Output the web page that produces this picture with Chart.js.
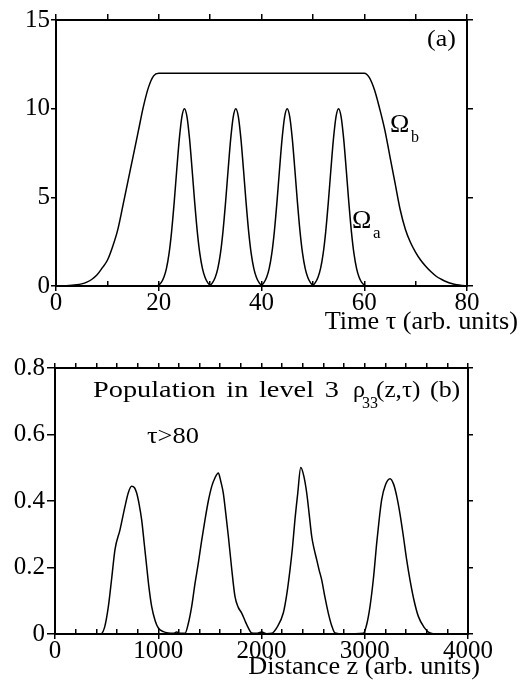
<!DOCTYPE html>
<html><head><meta charset="utf-8">
<script src="https://cdn.jsdelivr.net/npm/chart.js@4.4.1/dist/chart.umd.min.js"></script>
<style>
html,body{margin:0;padding:0;background:#fff;width:527px;height:692px;overflow:hidden}
canvas{position:absolute;left:0}
#ca{top:0}
#cb{top:340px}
</style></head><body>
<canvas id="ca" width="527" height="340"></canvas>
<canvas id="cb" width="527" height="352"></canvas>
<script>
// ---------- Panel (a): pulse envelopes ----------
const tauB = [0,2,4,5,6,7,8,9,10,11,12,13,14,15,16,17,18,19,20,40,60,61,62,63,64,65,66,67,68,69,70,71,72,73,74,75,76,77,78,79,80];
const omegaB = [0.003,0.016,0.065,0.12,0.22,0.38,0.63,1.02,1.45,2.2,3.15,4.5,5.9,7.3,8.7,10.1,11.2,11.85,12,12,12,11.75,11.05,10.0,8.8,7.3,5.8,4.3,3.2,2.45,1.9,1.45,1.1,0.8,0.55,0.38,0.24,0.14,0.07,0.03,0.01];

const tauA = [0,19.5,20,20.5,21,21.5,22,22.5,23,23.5,24,24.5,25,25.5,26,26.5,27,27.5,28,28.5,29,29.5,30,30.5,31,31.5,32,32.5,33,33.5,34,34.5,35,35.5,36,36.5,37,37.5,38,38.5,39,39.5,40,40.5,41,41.5,42,42.5,43,43.5,44,44.5,45,45.5,46,46.5,47,47.5,48,48.5,49,49.5,50,50.5,51,51.5,52,52.5,53,53.5,54,54.5,55,55.5,56,56.5,57,57.5,58,58.5,59,59.5,60,60.5,80];
const omegaA = [0,0,
  0.05,0.2,0.49,0.99,1.82,3.07,4.70,6.54,8.28,9.54,10,9.54,8.28,6.54,4.70,3.07,1.82,0.99,0.49,0.2,
  0.05,0.2,0.49,0.99,1.82,3.07,4.70,6.54,8.28,9.54,10,9.54,8.28,6.54,4.70,3.07,1.82,0.99,0.49,0.2,
  0.05,0.2,0.49,0.99,1.82,3.07,4.70,6.54,8.28,9.54,10,9.54,8.28,6.54,4.70,3.07,1.82,0.99,0.49,0.2,
  0.05,0.2,0.49,0.99,1.82,3.07,4.70,6.54,8.28,9.54,10,9.54,8.28,6.54,4.70,3.07,1.82,0.99,0.49,0.2,
  0.05,0,0];

const timeTickLabels = [0,20,40,60,80];
const omegaTickLabels = [0,5,10,15];

// ---------- Panel (b): population in level 3 ----------
const distZ = [0,300,440,480,517,550,581,630,678,710,742,770,791,815,839,865,888,910,936,970,1001,1050,1098,1150,1178,1210,1259,1290,1324,1355,1388,1420,1453,1485,1518,1550,1582,1605,1630,1655,1679,1710,1743,1775,1808,1840,1870,1905,1950,2002,2050,2099,2150,2211,2245,2276,2300,2324,2350,2380,2410,2438,2462,2486,2510,2535,2560,2583,2615,2647,2680,2712,2800,2986,3020,3051,3085,3116,3140,3164,3200,3245,3280,3310,3342,3374,3405,3438,3478,3519,3575,3632,3700,4000];
const rho33 = [0,0,0,0.02,0.083,0.17,0.254,0.314,0.384,0.425,0.444,0.44,0.424,0.39,0.344,0.27,0.203,0.14,0.083,0.04,0.018,0.007,0.003,0.002,0.006,0.002,0.002,0.03,0.083,0.15,0.213,0.28,0.344,0.40,0.444,0.47,0.484,0.46,0.424,0.36,0.294,0.2,0.113,0.08,0.063,0.04,0.02,0.003,0.002,0.006,0.001,0.002,0.02,0.063,0.12,0.193,0.26,0.344,0.42,0.501,0.475,0.424,0.36,0.294,0.255,0.223,0.19,0.163,0.11,0.063,0.025,0.003,0,0.002,0.03,0.083,0.17,0.274,0.345,0.404,0.448,0.467,0.45,0.414,0.36,0.294,0.225,0.163,0.1,0.053,0.02,0.003,0,0];

const distTickLabels = [0,1000,2000,3000,4000];
const rhoTickLabels = [0,0.2,0.4,0.6,0.8];

// ---------- helpers ----------
const SERIF = "'Liberation Serif', 'Times New Roman', Times, serif";
const pts = (xs, ys) => xs.map((x, i) => ({x, y: ys[i]}));

function lineDs(xs, ys) {
  return {data: pts(xs, ys), borderColor:'#000', borderWidth:1.5, pointRadius:0,
          fill:false, cubicInterpolationMode:'monotone'};
}

function axis(opts) {
  return {
    type:'linear', position:opts.position, min:opts.min, max:opts.max,
    weight: opts.weight || 0,
    afterFit: s => { if (opts.w !== undefined) s.width = opts.w; if (opts.h !== undefined) s.height = opts.h; },
    ticks:{
      display: !!opts.labels, stepSize: opts.step, autoSkip:false, maxRotation:0, color:'#000',
      padding: opts.pad || 0,
      font:{family:SERIF, size:25, lineHeight:1},
      callback: v => (opts.labels && opts.labels.some(l => Math.abs(l - v) < 1e-9)) ? String(v) : ''
    },
    grid:{drawOnChartArea:false, drawTicks:true, tickLength:opts.tl || 6, color:'#000', lineWidth:1.5},
    border:{display:true, color:'#000', width:2}
  };
}

function textPlugin(items) {
  return {
    id:'texts',
    afterDraw(chart) {
      const ctx = chart.ctx;
      items.forEach(t => {
        ctx.save();
        ctx.font = (t.size) + 'px ' + SERIF;
        ctx.fillStyle = '#000';
        ctx.textBaseline = 'alphabetic';
        if (t.ws) ctx.wordSpacing = t.ws + 'px';
        const sx = t.sx || 1;
        const w = ctx.measureText(t.text).width * sx;
        const x0 = t.align === 'right' ? t.x - w : t.x;
        ctx.translate(x0, t.y);
        ctx.scale(sx, 1);
        ctx.textAlign = 'left';
        ctx.fillText(t.text, 0, 0);
        ctx.restore();
      });
    }
  };
}

// ---------- Chart (a) ----------
new Chart(document.getElementById('ca'), {
  type:'line',
  data:{datasets:[lineDs(tauB, omegaB), lineDs(tauA, omegaA)]},
  options:{
    responsive:false, animation:false, devicePixelRatio:1,
    layout:{padding:0},
    plugins:{legend:{display:false}, tooltip:{enabled:false}},
    scales:{
      xm: axis({position:'bottom', min:0, max:80, step:10, h:0, tl:-5, weight:0}),
      x: axis({position:'bottom', min:0, max:80, step:20, labels:timeTickLabels, h:54, tl:5, weight:1}),
      x2: axis({position:'top', min:0, max:80, step:10, h:20, tl:6}),
      y: axis({position:'left', min:0, max:15, step:5, labels:omegaTickLabels, w:56, tl:5, pad:1}),
      y2: axis({position:'right', min:0, max:15, step:5, w:60, tl:6})
    }
  },
  plugins:[textPlugin([
    {text:'(a)', x:427, y:46, size:24, sx:1.08},
    {text:'Ω', x:390, y:132, size:26},
    {text:'b', x:411, y:142, size:16},
    {text:'Ω', x:352, y:228, size:26},
    {text:'a', x:373, y:238, size:17},
    {text:'Time τ (arb. units)', x:518, y:329, size:25, sx:1.05, align:'right'}
  ])]
});

// ---------- Chart (b) ----------
new Chart(document.getElementById('cb'), {
  type:'line',
  data:{datasets:[lineDs(distZ, rho33)]},
  options:{
    responsive:false, animation:false, devicePixelRatio:1,
    layout:{padding:0},
    plugins:{legend:{display:false}, tooltip:{enabled:false}},
    scales:{
      xm: axis({position:'bottom', min:0, max:4000, step:200, h:0, tl:-5, weight:0}),
      x: axis({position:'bottom', min:0, max:4000, step:1000, labels:distTickLabels, h:58, tl:5, weight:1}),
      x2: axis({position:'top', min:0, max:4000, step:200, h:28, tl:5}),
      y: axis({position:'left', min:0, max:0.8, step:0.2, labels:rhoTickLabels, w:55, tl:8, pad:2}),
      y2: axis({position:'right', min:0, max:0.8, step:0.2, w:59, tl:5})
    }
  },
  plugins:[textPlugin([
    {text:'Population in level 3', x:93, y:57, size:24, sx:1.18, ws:3},
    {text:'ρ', x:353, y:57, size:24},
    {text:'33', x:362, y:68, size:16},
    {text:'(z,τ)', x:376, y:57, size:24, sx:1.05},
    {text:'(b)', x:430, y:57, size:24, sx:1.08},
    {text:'τ>80', x:147, y:103, size:24, sx:1.1},
    {text:'Distance z (arb. units)', x:480, y:334, size:25, sx:1.05, align:'right'}
  ])]
});
</script>
</body></html>
